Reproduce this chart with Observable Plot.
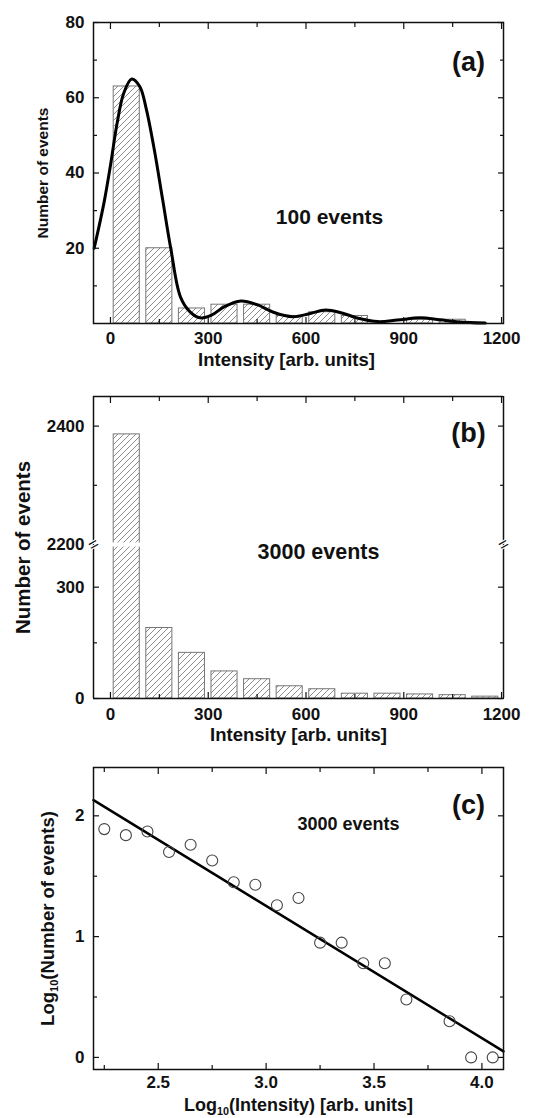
<!DOCTYPE html>
<html><head><meta charset="utf-8">
<script src="https://cdn.jsdelivr.net/npm/d3@7"></script>
<script src="https://cdn.jsdelivr.net/npm/@observablehq/plot@0.6"></script>
<style>
html,body{margin:0;padding:0;background:#fff;}
#chart{width:539px;}
#chart svg{display:block;}
</style></head><body><div id="chart"></div>
<script>
// ---------- data ----------
const binCenters = [50, 150, 250, 350, 450, 550, 650, 750, 850, 950, 1050, 1150];
const countsA = [63, 20, 4, 5, 5, 2, 3, 2, 0, 1, 1, 0];
const smoothX = [-50, -20, 0, 20, 40, 65, 90, 110, 135, 160, 185, 215, 245, 275, 310, 350, 400, 450, 500, 560, 610, 660, 710, 760, 820, 880, 950, 1010, 1070, 1150];
const smoothY = [20, 32, 42, 53, 61, 65, 63, 57, 46, 33, 20, 7, 3, 1.5, 2.2, 4.5, 6, 5, 3, 1.8, 2.6, 3.6, 2.8, 1.4, 0.5, 0.9, 1.5, 1, 0.4, 0.1];
const countsB = [2386, 190, 123, 73, 52, 33, 25, 13, 13, 11, 9, 5];
const logIntensity = [2.25, 2.35, 2.45, 2.55, 2.65, 2.75, 2.85, 2.95, 3.05, 3.15, 3.25, 3.35, 3.45, 3.55, 3.65, 3.85, 3.95, 4.05];
const logCounts = [1.89, 1.84, 1.87, 1.70, 1.76, 1.63, 1.45, 1.43, 1.26, 1.32, 0.95, 0.95, 0.78, 0.78, 0.48, 0.30, 0, 0];
const fitX = [2.2, 4.1];
const fitY = [2.13, 0.05];

const intensityDomain = [-52, 1206];
const intensityTicks = [0, 300, 600, 900, 1200];
const intensityMinor = [150, 450, 750, 1050];
const yTicksA = [20, 40, 60, 80];
const yMinorA = [10, 30, 50, 70];
const yDomainBUpper = [2200, 2450];
const yDomainBLower = [0, 415];
const yTicksBUpper = [2400];
const yLabelsBUpper = [2200, 2400];
const yMinorBUpper = [2300];
const yTicksBLower = [0, 300];
const yMinorBLower = [150];
const logXTicks = [2.5, 3.0, 3.5, 4.0];
const logXMinor = [2.25, 2.75, 3.25, 3.75];
const logYTicks = [0, 1, 2];
const logYMinor = [0.5, 1.5];

// ---------- style ----------
const INK = "#111";
const FONT = "'Liberation Sans', Arial, Helvetica, sans-serif";
const W = 539;
const HALF = 40; // half bar width in intensity units

function ticksX(xv, len, sides) {
  const o = {stroke: INK, strokeWidth: 1.2, fill: "none", label: null};
  return sides.map(s => Plot.axisX(xv, {...o, anchor: s, tickSize: len, dy: s === "bottom" ? -len : len}));
}
function ticksY(yv, len) {
  const o = {stroke: INK, strokeWidth: 1.2, fill: "none", label: null};
  return [
    Plot.axisY(yv, {...o, anchor: "left", tickSize: len, dx: len}),
    Plot.axisY(yv, {...o, anchor: "right", tickSize: len, dx: -len})
  ];
}
const lab = {tickSize: 0, label: null, fontSize: 17, fontWeight: "bold", fill: INK};
const xLabels = (xv, fmt, pad) => Plot.axisX(xv, {...lab, anchor: "bottom", tickPadding: pad, tickFormat: fmt});
const yLabels = (yv, fmt) => Plot.axisY(yv, {...lab, anchor: "left", tickPadding: 9, tickFormat: fmt});

function label(txt, opts) {
  return Plot.text([txt], {text: d => d, fill: INK, fontWeight: "bold", textAnchor: "middle", lineAnchor: "middle", ...opts});
}
function addHatch(svg, id) {
  const defs = d3.select(svg).insert("defs", ":first-child");
  const p = defs.append("pattern").attr("id", id).attr("patternUnits", "userSpaceOnUse")
    .attr("width", 6).attr("height", 6);
  p.append("rect").attr("width", 6).attr("height", 6).attr("fill", "white");
  p.append("path").attr("d", "M-1,1 l2,-2 M0,6 l6,-6 M5,7 l2,-2")
    .attr("stroke", "#808080").attr("stroke-width", 0.9);
}
function subscript(svg) {
  d3.select(svg).selectAll("text").each(function () {
    const t = this.textContent;
    if (t.includes("₁₀")) {
      const [a, b] = t.split("₁₀");
      const s = d3.select(this);
      s.text(null);
      s.append("tspan").text(a);
      s.append("tspan").attr("dy", "0.35em").attr("font-size", "0.6em").text("10");
      s.append("tspan").attr("dy", "-0.21em").text(b);
    }
  });
}
const style = {fontFamily: FONT, fontSize: "17px", color: INK, background: "transparent", overflow: "visible"};
const bars = (counts) => binCenters.map((c, i) => ({x1: c - HALF, x2: c + HALF, y: counts[i]})).filter(d => d.y > 0);
const root = document.getElementById("chart");

// ---------- panel (a) ----------
const smooth = smoothX.map((x, i) => ({x, y: smoothY[i]}));
const plotA = Plot.plot({
  width: W, height: 372,
  marginTop: 22, marginBottom: 49, marginLeft: 93, marginRight: 36,
  style,
  x: {domain: intensityDomain},
  y: {domain: [0, 80]},
  marks: [
    Plot.rectY(bars(countsA), {x1: "x1", x2: "x2", y: "y", fill: "url(#hatchA)", stroke: "#777", strokeWidth: 1}),
    Plot.line(smooth, {x: "x", y: "y", stroke: "#000", strokeWidth: 3, curve: "catmull-rom"}),
    Plot.frame({stroke: INK, strokeWidth: 1.5}),
    ...ticksX(intensityTicks, 6, ["bottom", "top"]),
    ...ticksX(intensityMinor, 4, ["bottom", "top"]),
    ...ticksY(yTicksA, 6),
    ...ticksY(yMinorA, 4),
    xLabels(intensityTicks, d3.format("d"), 8),
    yLabels(yTicksA, d3.format("d")),
    label("Intensity [arb. units]", {frameAnchor: "bottom", dx: -12, dy: 37, fontSize: 18.5}),
    label("Number of events", {frameAnchor: "left", dx: -50, rotate: -90, fontSize: 15.5}),
    label("(a)", {frameAnchor: "top-right", dx: -35, dy: 40, fontSize: 27}),
    label("100 events", {frameAnchor: "top-left", dx: 236, dy: 195, fontSize: 21})
  ]
});
addHatch(plotA, "hatchA");
root.appendChild(plotA);

// ---------- panel (b): broken y axis, upper part ----------
const barsB = bars(countsB);
const plotBU = Plot.plot({
  width: W, height: 172,
  marginTop: 24, marginBottom: 0, marginLeft: 93, marginRight: 36,
  style,
  x: {domain: intensityDomain},
  y: {domain: yDomainBUpper},
  marks: [
    Plot.rectY(barsB, {x1: "x1", x2: "x2", y: "y", fill: "url(#hatchB)", stroke: "#777", strokeWidth: 1, clip: true}),
    Plot.ruleX(intensityDomain, {stroke: INK, strokeWidth: 1.5}),
    Plot.ruleY([yDomainBUpper[1]], {stroke: INK, strokeWidth: 1.5}),
    ...ticksX(intensityTicks, 6, ["top"]),
    ...ticksX(intensityMinor, 4, ["top"]),
    ...ticksY(yTicksBUpper, 6),
    ...ticksY(yMinorBUpper, 4),
    yLabels(yLabelsBUpper, d3.format("d")),
    label("(b)", {frameAnchor: "top-right", dx: -35, dy: 37, fontSize: 27})
  ]
});
addHatch(plotBU, "hatchB");
root.appendChild(plotBU);

// ---------- panel (b): lower part ----------
const plotBL = Plot.plot({
  width: W, height: 200,
  marginTop: 0, marginBottom: 46, marginLeft: 93, marginRight: 36,
  style,
  x: {domain: intensityDomain},
  y: {domain: yDomainBLower},
  marks: [
    Plot.rectY(barsB, {x1: "x1", x2: "x2", y: "y", fill: "url(#hatchB)", stroke: "#777", strokeWidth: 1, clip: true}),
    Plot.ruleY([yDomainBLower[1]], {stroke: "white", strokeWidth: 4}),
    Plot.ruleX(intensityDomain, {stroke: INK, strokeWidth: 1.5}),
    Plot.ruleY([yDomainBLower[0]], {stroke: INK, strokeWidth: 1.5}),
    Plot.text(intensityDomain, {x: d => d, y: () => yDomainBLower[1], text: () => "=", rotate: -30, fontSize: 17, fill: INK, stroke: "white", strokeWidth: 2, paintOrder: "stroke"}),
    ...ticksX(intensityTicks, 6, ["bottom"]),
    ...ticksX(intensityMinor, 4, ["bottom"]),
    ...ticksY(yTicksBLower, 6),
    ...ticksY(yMinorBLower, 4),
    xLabels(intensityTicks, d3.format("d"), 9),
    yLabels(yTicksBLower, d3.format("d")),
    label("Intensity [arb. units]", {frameAnchor: "bottom", dy: 37, fontSize: 18.5}),
    label("Number of events", {frameAnchor: "top-left", dx: -70, dy: 3, rotate: -90, fontSize: 20.5}),
    label("3000 events", {frameAnchor: "top-left", dx: 225, dy: 8, fontSize: 21.5})
  ]
});
root.appendChild(plotBL);

// ---------- panel (c) ----------
const pts = logIntensity.map((x, i) => ({x, y: logCounts[i]}));
const fit = fitX.map((x, i) => ({x, y: fitY[i]}));
const plotC = Plot.plot({
  width: W, height: 374,
  marginTop: 23, marginBottom: 49, marginLeft: 93, marginRight: 36,
  style,
  x: {domain: [2.2, 4.1]},
  y: {domain: [-0.1, 2.4]},
  marks: [
    Plot.line(fit, {x: "x", y: "y", stroke: "#000", strokeWidth: 2.5}),
    Plot.dot(pts, {x: "x", y: "y", r: 5.5, stroke: "#444", strokeWidth: 1.1, fill: "none"}),
    Plot.frame({stroke: INK, strokeWidth: 1.5}),
    ...ticksX(logXTicks, 6, ["bottom", "top"]),
    ...ticksX(logXMinor, 4, ["bottom", "top"]),
    ...ticksY(logYTicks, 6),
    ...ticksY(logYMinor, 4),
    xLabels(logXTicks, d3.format(".1f"), 6),
    yLabels(logYTicks, d3.format("d")),
    label("Log₁₀(Intensity) [arb. units]", {frameAnchor: "bottom", dy: 35.5, fontSize: 18}),
    label("Log₁₀(Number of events)", {frameAnchor: "left", dx: -45, rotate: -90, fontSize: 18.5}),
    label("(c)", {frameAnchor: "top-right", dx: -35, dy: 38, fontSize: 27}),
    label("3000 events", {frameAnchor: "top-left", dx: 255, dy: 57, fontSize: 18})
  ]
});
subscript(plotC);
root.appendChild(plotC);
</script>
</body></html>
